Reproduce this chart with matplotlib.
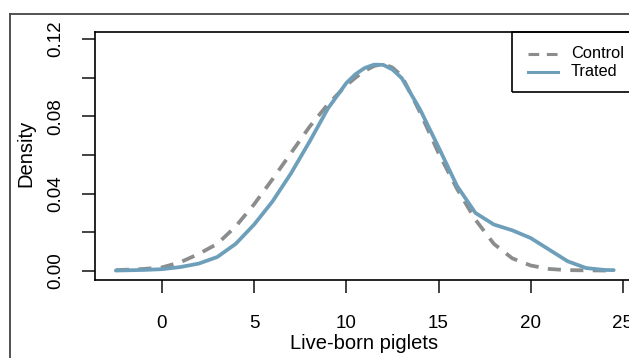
import matplotlib
matplotlib.use("Agg")
import matplotlib.pyplot as plt
from matplotlib.lines import Line2D
from matplotlib.patches import Rectangle

plt.rcParams['font.family'] = ['Liberation Sans', 'DejaVu Sans']

x_vals = [-2.5, -2, -1, 0, 1, 2, 3, 4, 5, 6, 7, 8, 9, 10, 10.5, 11, 11.5, 12, 12.5,
          13, 14, 15, 16, 17, 18, 19, 20, 21, 22, 23, 24, 24.5]
control = [0.0004, 0.0006, 0.0010, 0.0018, 0.0045, 0.0088, 0.0140, 0.0230, 0.0345,
           0.0475, 0.0610, 0.0745, 0.0862, 0.0960, 0.1000, 0.1035, 0.1060, 0.1071,
           0.1052, 0.1010, 0.0820, 0.0610, 0.0425, 0.0265, 0.0140, 0.0065, 0.0028,
           0.0010, 0.0004, 0.0003, 0.0002, 0.0002]
trated = [0.0002, 0.0003, 0.0005, 0.0009, 0.0020, 0.0038, 0.0072, 0.0140, 0.0240,
          0.0360, 0.0505, 0.0668, 0.0840, 0.0972, 0.1018, 0.1050, 0.1067, 0.1066,
          0.1042, 0.0998, 0.0835, 0.0640, 0.0440, 0.0300, 0.0240, 0.0210, 0.0170,
          0.0110, 0.0050, 0.0015, 0.0005, 0.0004]
series_names = ["Control", "Trated"]
xticks = [0, 5, 10, 15, 20, 25]
yticks_major = [0.00, 0.04, 0.08, 0.12]
yticks_minor = [0.02, 0.06, 0.10]

W, H = 629, 358
fig = plt.figure(figsize=(W / 100, H / 100), dpi=100)
fig.patch.set_facecolor('white')

def fx(px):
    return px / W

def fy(py):
    return 1 - py / H

ax_l, ax_r, ax_t, ax_b = 95, 634, 32, 280
ax = fig.add_axes([fx(ax_l), fy(ax_b), (ax_r - ax_l) / W, (ax_b - ax_t) / H])
ax.set_xlim(-3.63, 25.6)
ax.set_ylim(-0.0047, 0.1236)

gray = '#8a8d8c'
blue = '#6d9fba'
lw = 2.7
ax.plot(x_vals, control, color=gray, lw=lw, linestyle=(0, (3.5, 2.5)),
        solid_capstyle='butt', dash_capstyle='butt')
ax.plot(x_vals, trated, color=blue, lw=lw, solid_capstyle='round')

for s in ax.spines.values():
    s.set_linewidth(1.2)
    s.set_color('black')

ax.set_xticks(xticks)
ax.set_xticklabels([str(v) for v in xticks])
ax.set_yticks(yticks_major)
ax.set_yticklabels([f"{v:.2f}" for v in yticks_major], rotation=90, va='center')
ax.set_yticks(yticks_minor, minor=True)
ax.tick_params(axis='x', length=9, width=1.2, pad=16, labelsize=13.5, color='#222222')
ax.tick_params(axis='y', which='both', length=9.5, width=1.2, pad=13, labelsize=13.5,
               color='#222222')
ax.tick_params(axis='y', which='minor', labelleft=False)

fig.text(fx(364), fy(349), "Live-born piglets", ha='center', va='baseline', fontsize=14.5)
fig.text(fx(26), fy(153), "Density", ha='center', va='center', rotation=90, fontsize=14.5)

# legend box
lx0, lx1, ly0, ly1 = 512, 634, 32, 92
fig.add_artist(Rectangle((fx(lx0), fy(ly1)), (lx1 - lx0) / W, (ly1 - ly0) / H,
                         transform=fig.transFigure, fill=False, edgecolor='black',
                         lw=1.2, clip_on=False))
rows = [(54, gray, (0, (3.5, 2.5))), (72, blue, '-')]
for (ypx, col, ls), name in zip(rows, series_names):
    fig.add_artist(Line2D([fx(528), fx(558)], [fy(ypx), fy(ypx)], transform=fig.transFigure,
                          color=col, lw=2.2, linestyle=ls, dash_capstyle='butt'))
    fig.text(fx(571), fy(ypx), name, ha='left', va='center', fontsize=11.8)

# outer frame
fig.add_artist(Line2D([fx(10), fx(10)], [fy(14), 0], transform=fig.transFigure,
                      color='#444444', lw=1.3))
fig.add_artist(Line2D([fx(10), 1], [fy(14), fy(14)], transform=fig.transFigure,
                      color='#444444', lw=1.3))

fig.savefig("out.png", dpi=100, facecolor='white')
